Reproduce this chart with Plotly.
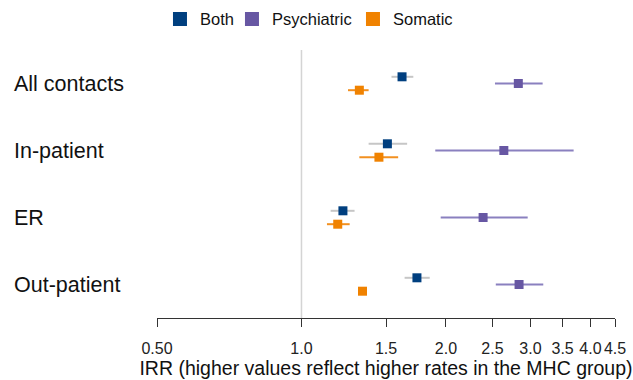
import plotly.graph_objects as go
import math

categories = ["All contacts", "In-patient", "ER", "Out-patient"]
series = ["Both", "Psychiatric", "Somatic"]

both_est = [1.62, 1.51, 1.22, 1.74]
both_lo = [1.54, 1.38, 1.15, 1.64]
both_hi = [1.71, 1.66, 1.29, 1.85]

psych_est = [2.83, 2.64, 2.39, 2.84]
psych_lo = [2.53, 1.90, 1.95, 2.54]
psych_hi = [3.18, 3.69, 2.96, 3.19]

som_est = [1.32, 1.45, 1.19, 1.34]
som_lo = [1.25, 1.32, 1.13, 1.32]
som_hi = [1.38, 1.59, 1.26, 1.36]

tick_vals = [0.5, 1.0, 1.5, 2.0, 2.5, 3.0, 3.5, 4.0, 4.5]
tick_text = ["0.50", "1.0", "1.5", "2.0", "2.5", "3.0", "3.5", "4.0", "4.5"]

colors = {"Both": "#003f7f", "Psychiatric": "#6757a3", "Somatic": "#f08200"}
ci_colors = {"Both": "#c6c6c6", "Psychiatric": "#8a80bf", "Somatic": "#f29020"}
offsets = {"Both": -0.1, "Psychiatric": 0.0, "Somatic": 0.1}
data = {
    "Both": (both_est, both_lo, both_hi),
    "Psychiatric": (psych_est, psych_lo, psych_hi),
    "Somatic": (som_est, som_lo, som_hi),
}
legend_ids = {"Both": "legend", "Psychiatric": "legend2", "Somatic": "legend3"}
legend_x = {"Both": 0.0065, "Psychiatric": 0.1637, "Somatic": 0.4279}

FONT = "Liberation Sans"
fig = go.Figure()

for s in series:
    est, lo, hi = data[s]
    ys = [i + offsets[s] for i in range(len(categories))]
    fig.add_trace(go.Scatter(
        x=est, y=ys, mode="markers", showlegend=False,
        marker=dict(symbol="square", size=9, color=colors[s]),
        error_x=dict(type="data", symmetric=False,
                     array=[h - e for h, e in zip(hi, est)],
                     arrayminus=[e - l for e, l in zip(est, lo)],
                     width=0, thickness=2, color=ci_colors[s]),
        hoverinfo="skip",
    ))

for s in series:
    fig.add_trace(go.Scatter(
        x=[None], y=[None], mode="markers", name=s, legend=legend_ids[s],
        marker=dict(symbol="square", size=14, color=colors[s]),
    ))

for i, c in enumerate(categories):
    fig.add_annotation(text=c, x=-0.3176, xref="paper", y=i, yref="y",
                       xanchor="left", yanchor="middle", showarrow=False,
                       font=dict(size=21.5, color="#111111", family=FONT))

fig.add_shape(type="line", x0=1.0, x1=1.0, xref="x", y0=0, y1=1, yref="paper",
              line=dict(color="#d4d4d4", width=1.5), layer="below")

legend_common = dict(orientation="h", xanchor="left", y=1.115, yanchor="middle",
                     font=dict(size=16.5, family=FONT), itemwidth=30,
                     bgcolor="rgba(0,0,0,0)")

fig.update_layout(
    width=633, height=380,
    margin=dict(l=157, r=18, t=50, b=62, autoexpand=False),
    paper_bgcolor="white", plot_bgcolor="white",
    font=dict(family=FONT, color="#111111"),
    legend=dict(x=legend_x["Both"], **legend_common),
    legend2=dict(x=legend_x["Psychiatric"], **legend_common),
    legend3=dict(x=legend_x["Somatic"], **legend_common),
    xaxis=dict(type="log", range=[math.log10(0.5), math.log10(4.5)],
               tickvals=tick_vals, ticktext=tick_text,
               showgrid=False, zeroline=False, automargin=False,
               showline=True, linecolor="#333333", linewidth=1.3,
               ticks="outside", ticklen=8, tickwidth=1.3, tickcolor="#333333",
               ticklabelstandoff=8,
               tickfont=dict(size=16, color="#222222"),
               title=dict(text="IRR (higher values reflect higher rates in the MHC group)",
                          font=dict(size=19.5, color="#111111"), standoff=4)),
    yaxis=dict(range=[3.5, -0.5], visible=False, showgrid=False, zeroline=False,
               automargin=False),
)

fig.write_html("out.html")
